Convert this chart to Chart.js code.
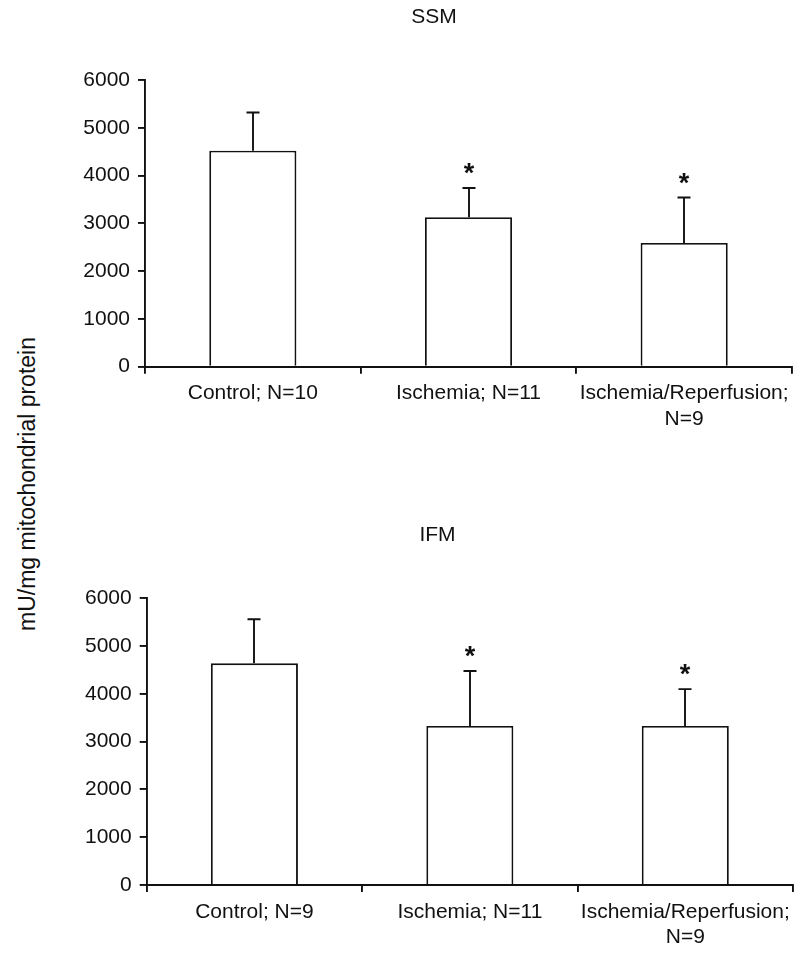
<!DOCTYPE html>
<html>
<head>
<meta charset="utf-8">
<script src="https://cdn.jsdelivr.net/npm/chart.js@4/dist/chart.umd.min.js"></script>
<style>
  html, body { margin: 0; padding: 0; background: #fff; }
  body { width: 800px; height: 957px; position: relative; overflow: hidden; }
  canvas { position: absolute; }
  #c1 { left: 76px; top: 0px; }
  #c2 { left: 82px; top: 500px; }
  #ytitle {
    position: absolute; left: 27px; top: 484px;
    transform: translate(-50%, -50%) rotate(-90deg);
    white-space: nowrap;
    font-family: "Liberation Sans", Arial, sans-serif;
    font-size: 23px; color: #111;
  }
</style>
</head>
<body>
<canvas id="c1" width="724" height="470"></canvas>
<canvas id="c2" width="718" height="457"></canvas>
<div id="ytitle">mU/mg mitochondrial protein</div>
<script>
// ---- data ----
const ssmCategories = ['Control; N=10', 'Ischemia; N=11', ['Ischemia/Reperfusion;', 'N=9']];
const ssmMeans = [4520, 3130, 2590];
const ssmSD = [800, 610, 950];
const ssmMarks = ['', '*', '*'];

const ifmCategories = ['Control; N=9', 'Ischemia; N=11', ['Ischemia/Reperfusion;', 'N=9']];
const ifmMeans = [4640, 3330, 3330];
const ifmSD = [920, 1150, 770];
const ifmMarks = ['', '*', '*'];

const yTicks = [0, 1000, 2000, 3000, 4000, 5000, 6000];

const FONT = '"Liberation Sans", Arial, sans-serif';
const INK = '#111';

const errorBarsPlugin = {
  id: 'errorBars',
  afterDatasetsDraw(chart, args, opts) {
    const meta = chart.getDatasetMeta(0);
    const ys = chart.scales.y;
    const ctx = chart.ctx;
    ctx.save();
    ctx.strokeStyle = INK;
    ctx.lineWidth = 1.9;
    meta.data.forEach((bar, i) => {
      const v = chart.data.datasets[0].data[i];
      const top = ys.getPixelForValue(v + opts.errors[i]);
      const x = Math.round(bar.x);
      ctx.beginPath();
      ctx.moveTo(x, bar.y);
      ctx.lineTo(x, top);
      ctx.moveTo(x - 6.5, top);
      ctx.lineTo(x + 6.5, top);
      ctx.stroke();
      if (opts.marks[i]) {
        const size = 27;
        ctx.fillStyle = INK;
        ctx.font = 'bold ' + size + 'px ' + FONT;
        ctx.textAlign = 'center';
        ctx.textBaseline = 'alphabetic';
        const centerY = top - 21;
        ctx.fillText(opts.marks[i], x, centerY + 0.57 * size);
      }
    });
    ctx.restore();
  }
};

function makeChart(id, title, cats, means, sds, marks, cfg) {
  return new Chart(document.getElementById(id), {
    type: 'bar',
    data: {
      labels: cats,
      datasets: [{
        data: means,
        backgroundColor: '#ffffff',
        borderColor: INK,
        borderWidth: 1.9,
        borderSkipped: 'bottom',
        categoryPercentage: 1.0,
        barPercentage: 0.404
      }]
    },
    options: {
      responsive: false,
      animation: false,
      devicePixelRatio: 1,
      layout: { padding: { left: 0, right: cfg.padRight, top: 0, bottom: 0 } },
      plugins: {
        legend: { display: false },
        tooltip: { enabled: false },
        title: {
          display: true,
          text: title,
          color: INK,
          font: { family: FONT, size: 21, weight: 'normal', lineHeight: 1.2 },
          padding: { top: cfg.titleTop, bottom: cfg.titleBottom }
        },
        errorBars: { errors: sds, marks: marks }
      },
      scales: {
        x: {
          afterFit(scale) { scale.height = cfg.xHeight; },
          grid: {
            display: true, drawOnChartArea: false, drawTicks: true,
            tickLength: 7, color: INK, lineWidth: 1.9, offset: true
          },
          border: { display: true, color: INK, width: 1.9 },
          ticks: {
            color: INK, padding: 7, maxRotation: 0, autoSkip: false,
            font: { family: FONT, size: 21, lineHeight: 1.22 }
          }
        },
        y: {
          min: 0, max: 6000,
          afterFit(scale) { scale.width = cfg.yWidth; },
          afterBuildTicks(scale) { scale.ticks = yTicks.map(v => ({ value: v })); },
          grid: {
            display: true, drawOnChartArea: false, drawTicks: true,
            tickLength: 7, color: INK, lineWidth: 1.9
          },
          border: { display: true, color: INK, width: 1.9 },
          ticks: {
            color: INK, padding: 8,
            font: { family: FONT, size: 21 },
            callback: (v) => String(v)
          }
        }
      }
    },
    plugins: [errorBarsPlugin]
  });
}

makeChart('c1', 'SSM', ssmCategories, ssmMeans, ssmSD, ssmMarks,
  { padRight: 8, titleTop: 4.4, titleBottom: 50.4, xHeight: 470 - 366.7, yWidth: 69 });
makeChart('c2', 'IFM', ifmCategories, ifmMeans, ifmSD, ifmMarks,
  { padRight: 7, titleTop: 22.4, titleBottom: 50.7, xHeight: 457 - 385, yWidth: 64.7 });
</script>
</body>
</html>
